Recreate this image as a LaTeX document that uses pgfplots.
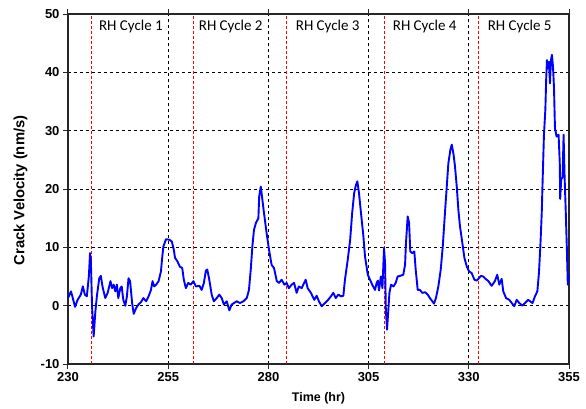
\documentclass[border=0pt]{standalone}
\usepackage{fontspec}
\setmainfont{Liberation Sans}
\newfontfamily\carlito{Carlito}
\usepackage{pgfplots}
\pgfplotsset{compat=1.18}
\begin{document}
\begin{tikzpicture}
\begin{axis}[
  scale only axis, width=501pt, height=350pt,
  xmin=230, xmax=355, ymin=-10, ymax=50,
  xtick={230,255,280,305,330,355},
  ytick={-10,0,10,20,30,40,50},
  tick align=outside, major tick length=5pt,
  xtick pos=both, xticklabel pos=lower, ytick pos=left,
  /pgf/number format/assume math mode=true,
  ticklabel style={font=\bfseries\fontsize{13}{15}\selectfont},
  axis line style={line width=1.1pt, black!85},
  major tick style={line width=1pt, black!85},
  grid=major,
  major grid style={black, line width=0.8pt, dash pattern=on 3pt off 3pt},
  xlabel={Time (hr)}, ylabel={Crack Velocity (nm/s)},
  xlabel style={font=\bfseries\fontsize{12.5}{14}\selectfont, at={(axis description cs:0.5,-0.097)}, anchor=center},
  ylabel style={font=\bfseries\fontsize{14.8}{16}\selectfont, at={(axis description cs:-0.0948,0.496)}, anchor=center},
  clip=false,
]
\foreach \xx in {235.8,261.3,284.4,308.9,332.5}{
  \edef\tmp{\noexpand\addplot[red, line width=0.9pt, dash pattern=on 3pt off 2pt, forget plot] coordinates {(\xx,-10) (\xx,50)};}
  \tmp
}
\addplot[blue, line width=1.9pt, line join=round] coordinates {
(230,1.3) (230.75,2.45) (231.2,1.3) (231.75,-0.2) (232.4,1.0) (233.2,1.9) (233.7,3.3) (234.2,1.9) (234.7,1.6) (235.2,5.0) (235.5,9.0) (235.7,7.9) (236.0,-0.1) (236.4,-5.3) (236.8,-1.25) (237.2,1.6) (237.8,4.7) (238.2,5.1) (238.6,3.3) (239.3,1.3) (239.9,2.2) (240.6,4.2) (241.0,3.0) (241.4,3.6) (241.8,2.45) (242.2,3.6) (242.55,1.3) (243.05,3.0) (243.4,3.3) (243.8,1.0) (244.3,0) (244.7,1.6) (245.1,4.7) (245.5,4.2) (246.0,0.45) (246.4,-1.4) (247.0,-0.4) (247.6,0.2) (248.2,0.6) (248.8,1.3) (249.5,0.75) (250.1,1.6) (250.7,2.7) (251.1,4.2) (251.5,3.3) (252.0,3.6) (252.6,4.2) (253.2,5.9) (253.45,7.9) (253.8,10.15) (254.45,11.4) (255.3,11.3) (255.9,11.0) (256.4,9.6) (256.7,8.2) (257.3,7.6) (257.9,6.7) (258.5,6.45) (258.9,4.45) (259.4,3.0) (260.0,3.9) (260.6,3.6) (261.3,4.2) (261.9,3.3) (262.8,3.4) (263.35,2.7) (263.9,3.9) (264.4,6.0) (264.75,6.2) (265.25,4.45) (265.85,1.9) (266.4,0.75) (267.1,1.3) (267.75,1.9) (268.35,1.3) (268.9,0.2) (269.6,0.75) (270.25,-0.8) (270.85,0.2) (271.4,0.45) (272.1,0.75) (272.9,0.45) (273.75,0.75) (274.6,1.3) (275.15,2.7) (275.6,6.2) (276.0,10.15) (276.4,13.0) (276.9,14.2) (277.5,15.0) (277.7,18.7) (278.1,20.4) (278.4,18.7) (278.9,15.9) (279.6,12.2) (280.15,9.6) (280.8,7.0) (281.4,6.45) (282.1,4.2) (282.65,3.9) (283.3,4.45) (284.0,3.6) (284.55,3.9) (285.1,3.0) (285.8,3.6) (286.4,3.9) (287.05,2.2) (287.6,3.3) (288.3,3.0) (289.3,4.45) (289.8,3.0) (290.6,2.2) (291.45,1.0) (292.05,1.7) (292.6,0.75) (293.3,-0.1) (294.1,0.45) (294.9,1.0) (295.6,1.6) (296.2,2.2) (296.8,1.3) (297.45,1.9) (298.1,1.6) (298.7,1.7) (299.1,4.45) (299.8,7.9) (300.4,11.3) (300.9,15.9) (301.4,19.3) (301.85,20.7) (302.2,21.3) (302.6,19.3) (303.1,15.9) (303.7,11.9) (304.1,8.45) (304.8,5.3) (305.35,4.45) (305.9,3.6) (306.6,2.7) (307.0,3.9) (307.3,4.3) (307.6,2.6) (308.05,5.0) (308.45,3.0) (308.85,9.9) (309.1,7.3) (309.3,-0.7) (309.6,-4.1) (309.9,-1.0) (310.2,2.2) (310.6,3.6) (311.2,3.3) (311.75,3.9) (312.25,5.0) (312.8,5.1) (313.65,5.3) (314.1,7.0) (314.3,10.45) (314.75,15.3) (315.1,14.2) (315.4,9.3) (315.9,9.0) (316.4,9.3) (316.75,6.2) (317.25,2.7) (317.8,2.7) (318.4,2.2) (319.1,2.3) (319.75,1.9) (320.3,1.3) (320.9,0.75) (321.3,0.35) (321.8,1.3) (322.4,3.3) (323.0,6.2) (323.5,10.15) (324.05,15.9) (324.5,20.4) (324.9,24.4) (325.4,26.7) (325.75,27.6) (326.2,25.9) (326.55,23.9) (327.0,20.4) (327.4,16.4) (327.8,13.6) (328.4,10.7) (328.9,8.2) (329.5,6.7) (330.05,5.9) (330.7,5.6) (331.4,4.45) (332.0,4.3) (332.5,4.7) (333.0,5.1) (333.6,5.0) (334.0,4.7) (334.9,4.2) (335.7,3.4) (336.5,4.2) (337.1,5.3) (337.6,3.6) (338.2,4.6) (338.6,2.45) (339.3,1.3) (340.1,1.0) (341.0,0.2) (341.35,-0.1) (341.95,1.0) (342.6,0.45) (343.4,0) (344.0,0.45) (344.8,1.0) (345.9,0.45) (346.5,1.6) (347.1,2.45) (347.5,5.6) (347.85,10.15) (348.2,15.9) (348.4,21.0) (348.75,29.3) (349.1,33.6) (349.3,38.7) (349.5,42.1) (349.75,40.7) (350.0,41.8) (350.25,38.1) (350.5,42.1) (350.75,43.0) (351.0,41.0) (351.25,37.5) (351.5,30.4) (351.9,29.0) (352.4,29.3) (352.7,24.4) (352.8,18.3) (353.05,21.6) (353.4,22.1) (353.65,29.3) (353.9,22.1) (354.2,15.9) (354.45,10.15) (354.7,3.6) (355.0,5.3)
};
\foreach \xx/\lab in {245.7/1,270.6/2,294.8/3,319.0/4,342.7/5}{
  \edef\tmp{\noexpand\node[font=\noexpand\carlito\noexpand\fontsize{15}{17}\noexpand\selectfont, inner sep=0.5pt] at (axis cs:\xx,47.9) {RH Cycle \lab};}
  \tmp
}
\end{axis}
\pgfresetboundingbox
\useasboundingbox (-68pt,-44pt) rectangle (518pt,364pt);
\end{tikzpicture}
\end{document}
